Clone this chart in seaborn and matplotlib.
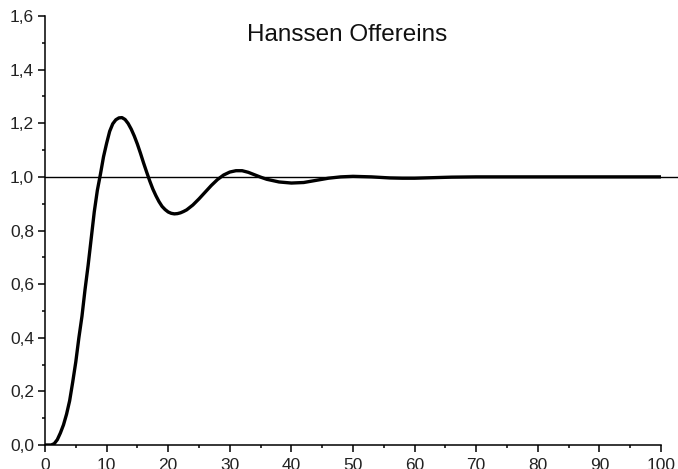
import matplotlib
matplotlib.use("Agg")
import matplotlib.pyplot as plt
from matplotlib.ticker import FuncFormatter, MultipleLocator
import seaborn as sns
import pandas as pd

# --- data ---
time = [0, 1, 1.5, 2, 2.5, 3, 3.5, 4, 4.5, 5, 5.5, 6, 6.5, 7, 7.5, 8, 8.5, 9, 9.5,
        10, 10.5, 11, 11.5, 12, 12.5, 13, 13.5, 14, 14.5, 15, 15.5, 16, 16.5, 17,
        17.5, 18, 18.5, 19, 19.5, 20, 20.5, 21, 21.5, 22, 22.5, 23, 24, 25, 26, 27,
        28, 29, 30, 31, 32, 33, 34, 35, 36, 38, 40, 42, 44, 46, 48, 50, 53, 56, 58,
        60, 63, 66, 70, 80, 90, 100]
response = [0.0, 0.0, 0.005, 0.02, 0.045, 0.075, 0.115, 0.165, 0.235, 0.31, 0.40,
            0.48, 0.58, 0.67, 0.77, 0.87, 0.95, 1.01, 1.075, 1.125, 1.17, 1.198,
            1.213, 1.22, 1.221, 1.214, 1.199, 1.178, 1.152, 1.122, 1.088, 1.052,
            1.018, 0.985, 0.955, 0.93, 0.908, 0.89, 0.878, 0.869, 0.864, 0.862,
            0.863, 0.866, 0.871, 0.877, 0.895, 0.918, 0.943, 0.968, 0.99, 1.007,
            1.018, 1.023, 1.023, 1.017, 1.008, 0.999, 0.991, 0.981, 0.977, 0.979,
            0.987, 0.995, 1.0, 1.002, 1.0, 0.996, 0.995, 0.995, 0.997, 0.999, 1.0,
            1.0, 1.0, 1.0]
reference_level = 1.0
title_text = "Hanssen Offereins"
x_ticks = [0, 10, 20, 30, 40, 50, 60, 70, 80, 90, 100]
y_ticks = [0.0, 0.2, 0.4, 0.6, 0.8, 1.0, 1.2, 1.4, 1.6]

df = pd.DataFrame({"t": time, "y": response})

sns.set_theme(style="ticks")
plt.rcParams["font.family"] = ["Liberation Sans", "DejaVu Sans"]

W, H = 678, 469
fig = plt.figure(figsize=(W / 100, H / 100), dpi=100)
ax = fig.add_axes([45 / W, (H - 445) / H, (661 - 45) / W, (445 - 16) / H])

sns.lineplot(data=df, x="t", y="y", ax=ax, color="black", linewidth=2.4,
             estimator=None, sort=False, zorder=3, solid_joinstyle="round",
             solid_capstyle="round")
ax.axhline(reference_level, xmin=0, xmax=(W - 45) / (661 - 45), color="black",
           linewidth=1.0, clip_on=False, zorder=2)

ax.set_xlim(0, 100)
ax.set_ylim(0, 1.6)
ax.set_xticks(x_ticks)
ax.set_yticks(y_ticks)
ax.xaxis.set_minor_locator(MultipleLocator(5))
ax.yaxis.set_minor_locator(MultipleLocator(0.1))
ax.xaxis.set_major_formatter(FuncFormatter(lambda v, p: f"{v:.0f}"))
ax.yaxis.set_major_formatter(FuncFormatter(lambda v, p: f"{v:.1f}".replace(".", ",")))
ax.set_xlabel("")
ax.set_ylabel("")

for s in ["top", "right"]:
    ax.spines[s].set_visible(False)
for s in ["left", "bottom"]:
    ax.spines[s].set_color("black")
    ax.spines[s].set_linewidth(1.1)

ax.tick_params(axis="both", which="major", direction="out", length=5, width=1.1,
               color="black", labelsize=12.5, labelcolor="#222222")
ax.tick_params(axis="both", which="minor", direction="out", length=2.5, width=1.1,
               color="black")
ax.tick_params(axis="y", which="major", pad=3)
ax.tick_params(axis="x", which="major", pad=4)

ax.text(0.49, 0.955, title_text, transform=ax.transAxes, ha="center", va="center",
        fontsize=17.5, color="#111111")

fig.savefig("out.png", dpi=100, facecolor="white")
